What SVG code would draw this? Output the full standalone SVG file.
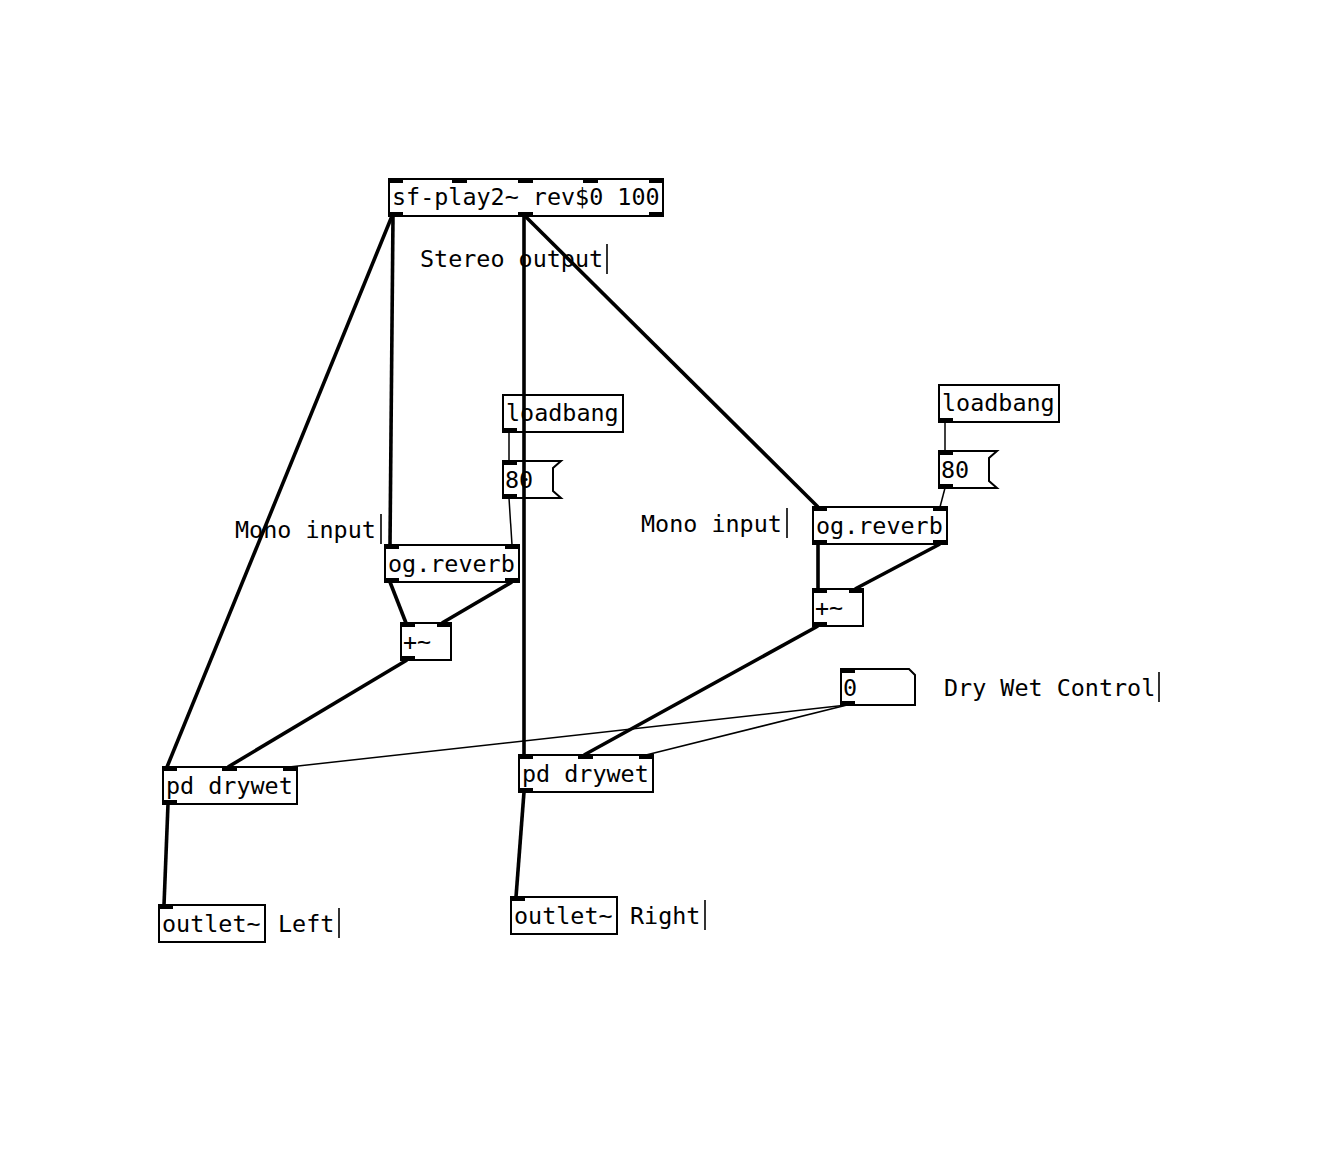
<svg xmlns="http://www.w3.org/2000/svg" width="1328" height="1150" viewBox="0 0 1328 1150">
<style>
.box{fill:none;stroke:#000;stroke-width:2}
.io{fill:#000}
.t{font-family:"DejaVu Sans Mono","Liberation Mono",monospace;font-size:23.4px;fill:#000}
.sig{stroke:#000;stroke-width:3.6;fill:none}
.ctl{stroke:#000;stroke-width:1.5;fill:none}
.cur{stroke:#000;stroke-width:1.6}
</style>
<rect width="1328" height="1150" fill="#fff"/>
<g id="connectors">
<line class="sig" x1="392" y1="216" x2="167" y2="767"/>
<line class="sig" x1="393" y1="216" x2="390" y2="545"/>
<line class="sig" x1="524" y1="216" x2="524" y2="755"/>
<line class="sig" x1="525" y1="216" x2="818" y2="507"/>
<line class="ctl" x1="509" y1="432" x2="509" y2="461"/>
<line class="ctl" x1="509" y1="498" x2="512" y2="545"/>
<line class="sig" x1="390" y1="582" x2="406" y2="623"/>
<line class="sig" x1="512" y1="582" x2="442" y2="623"/>
<line class="sig" x1="407" y1="660" x2="228" y2="767"/>
<line class="ctl" x1="945" y1="422" x2="945" y2="451"/>
<line class="ctl" x1="945" y1="488" x2="940" y2="507"/>
<line class="sig" x1="818" y1="544" x2="818" y2="589"/>
<line class="sig" x1="940" y1="544" x2="855" y2="589"/>
<line class="sig" x1="818" y1="626" x2="584" y2="755"/>
<line class="ctl" x1="847" y1="705" x2="289" y2="767"/>
<line class="ctl" x1="847" y1="705" x2="646" y2="755"/>
<line class="sig" x1="168" y1="804" x2="164" y2="905"/>
<line class="sig" x1="524" y1="792" x2="516" y2="897"/>
</g>
<g id="sfplay">
<rect class="box" x="389" y="179" width="274" height="37"/>
<rect class="io" x="388" y="178" width="15" height="5"/>
<rect class="io" x="452" y="178" width="15" height="5"/>
<rect class="io" x="518" y="178" width="15" height="5"/>
<rect class="io" x="583" y="178" width="15" height="5"/>
<rect class="io" x="649" y="178" width="15" height="5"/>
<rect class="io" x="388" y="212" width="15" height="5"/>
<rect class="io" x="518" y="212" width="15" height="5"/>
<rect class="io" x="649" y="212" width="15" height="5"/>
<text class="t" x="392" y="205">sf-play2~ rev$0 100</text>
</g>
<g id="c-stereo">
<text class="t" x="420" y="267">Stereo output</text>
<line class="cur" x1="607" y1="244" x2="607" y2="274"/>
</g>
<g id="loadbang1">
<rect class="box" x="503" y="395" width="120" height="37"/>
<rect class="io" x="502" y="428" width="15" height="5"/>
<text class="t" x="506" y="421">loadbang</text>
</g>
<g id="num80a">
<path class="box" d="M503 461 H561 L553 468 V491 L561 498 H503 Z"/>
<rect class="io" x="502" y="460" width="15" height="5"/>
<rect class="io" x="502" y="494" width="15" height="5"/>
<text class="t" x="505" y="488">80</text>
</g>
<g id="c-mono1">
<text class="t" x="235" y="538">Mono input</text>
<line class="cur" x1="381" y1="514" x2="381" y2="544"/>
</g>
<g id="reverb1">
<rect class="box" x="385" y="545" width="134" height="37"/>
<rect class="io" x="384" y="544" width="15" height="5"/>
<rect class="io" x="505" y="544" width="15" height="5"/>
<rect class="io" x="384" y="578" width="15" height="5"/>
<rect class="io" x="505" y="578" width="15" height="5"/>
<text class="t" x="388" y="572">og.reverb</text>
</g>
<g id="plus1">
<rect class="box" x="401" y="623" width="50" height="37"/>
<rect class="io" x="400" y="622" width="15" height="5"/>
<rect class="io" x="437" y="622" width="15" height="5"/>
<rect class="io" x="400" y="656" width="15" height="5"/>
<text class="t" x="403" y="650">+~</text>
</g>
<g id="loadbang2">
<rect class="box" x="939" y="385" width="120" height="37"/>
<rect class="io" x="938" y="418" width="15" height="5"/>
<text class="t" x="942" y="411">loadbang</text>
</g>
<g id="num80b">
<path class="box" d="M939 451 H997 L989 458 V481 L997 488 H939 Z"/>
<rect class="io" x="938" y="450" width="15" height="5"/>
<rect class="io" x="938" y="484" width="15" height="5"/>
<text class="t" x="941" y="478">80</text>
</g>
<g id="c-mono2">
<text class="t" x="641" y="532">Mono input</text>
<line class="cur" x1="787" y1="508" x2="787" y2="538"/>
</g>
<g id="reverb2">
<rect class="box" x="813" y="507" width="134" height="37"/>
<rect class="io" x="812" y="506" width="15" height="5"/>
<rect class="io" x="933" y="506" width="15" height="5"/>
<rect class="io" x="812" y="540" width="15" height="5"/>
<rect class="io" x="933" y="540" width="15" height="5"/>
<text class="t" x="816" y="534">og.reverb</text>
</g>
<g id="plus2">
<rect class="box" x="813" y="589" width="50" height="37"/>
<rect class="io" x="812" y="588" width="15" height="5"/>
<rect class="io" x="849" y="588" width="15" height="5"/>
<rect class="io" x="812" y="622" width="15" height="5"/>
<text class="t" x="815" y="616">+~</text>
</g>
<g id="num0">
<path class="box" d="M841 669 H909 L915 675 V705 H841 Z"/>
<rect class="io" x="840" y="668" width="15" height="5"/>
<rect class="io" x="840" y="701" width="15" height="5"/>
<text class="t" x="843" y="696">0</text>
</g>
<g id="c-drywet">
<text class="t" x="944" y="696">Dry Wet Control</text>
<line class="cur" x1="1159" y1="672" x2="1159" y2="702"/>
</g>
<g id="drywet1">
<rect class="box" x="163" y="767" width="134" height="37"/>
<rect class="io" x="162" y="766" width="15" height="5"/>
<rect class="io" x="222" y="766" width="15" height="5"/>
<rect class="io" x="283" y="766" width="15" height="5"/>
<rect class="io" x="162" y="800" width="15" height="5"/>
<text class="t" x="166" y="794">pd drywet</text>
</g>
<g id="drywet2">
<rect class="box" x="519" y="755" width="134" height="37"/>
<rect class="io" x="518" y="754" width="15" height="5"/>
<rect class="io" x="578" y="754" width="15" height="5"/>
<rect class="io" x="639" y="754" width="15" height="5"/>
<rect class="io" x="518" y="788" width="15" height="5"/>
<text class="t" x="522" y="782">pd drywet</text>
</g>
<g id="outletL">
<rect class="box" x="159" y="905" width="106" height="37"/>
<rect class="io" x="158" y="904" width="15" height="5"/>
<text class="t" x="162" y="932">outlet~</text>
</g>
<g id="c-left">
<text class="t" x="278" y="932">Left</text>
<line class="cur" x1="339" y1="908" x2="339" y2="938"/>
</g>
<g id="outletR">
<rect class="box" x="511" y="897" width="106" height="37"/>
<rect class="io" x="510" y="896" width="15" height="5"/>
<text class="t" x="514" y="924">outlet~</text>
</g>
<g id="c-right">
<text class="t" x="630" y="924">Right</text>
<line class="cur" x1="705" y1="900" x2="705" y2="930"/>
</g>
</svg>
